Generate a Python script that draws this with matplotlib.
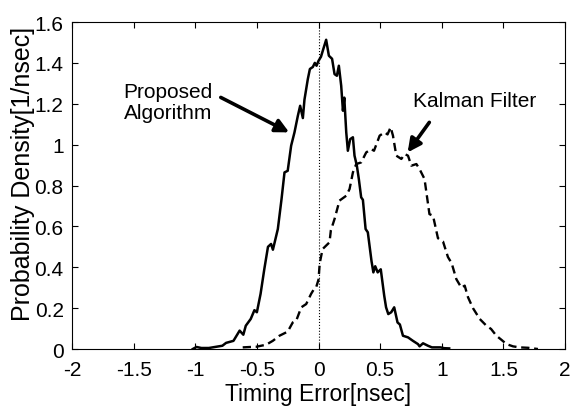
#
#	plot.py
#	Timing error probability densities, proposed algorithm vs Kalman filter
#

import numpy as np
import matplotlib.pyplot as plt

plt.rcParams['font.family'] = ['Liberation Sans', 'DejaVu Sans']
plt.rcParams['axes.unicode_minus'] = False

# Proposed algorithm (solid)
x_prop = [-1.02, -0.99, -0.95, -0.89, -0.81, -0.78, -0.75, -0.72, -0.69, -0.64,
          -0.61, -0.59, -0.55, -0.52, -0.50, -0.47, -0.44, -0.41, -0.385, -0.37,
          -0.33, -0.30, -0.276, -0.25, -0.222, -0.195, -0.168, -0.149, -0.127, -0.114,
          -0.087, -0.07, -0.046, -0.03, -0.016, 0.0, 0.02, 0.04, 0.062, 0.084,
          0.11, 0.13, 0.149, 0.165, 0.184, 0.198, 0.209, 0.225, 0.238, 0.257,
          0.279, 0.292, 0.311, 0.327, 0.346, 0.36, 0.382, 0.40, 0.414, 0.43,
          0.445, 0.46, 0.48, 0.505, 0.533, 0.548, 0.566, 0.59, 0.614, 0.641,
          0.66, 0.685, 0.726, 0.766, 0.807, 0.82, 0.848, 0.888, 0.92, 0.99,
          1.02, 1.06]
y_prop = [0.0, 0.01, 0.005, 0.005, 0.013, 0.016, 0.03, 0.035, 0.04, 0.09,
          0.07, 0.114, 0.147, 0.19, 0.18, 0.27, 0.39, 0.50, 0.514, 0.486,
          0.587, 0.734, 0.864, 0.872, 0.995, 1.06, 1.14, 1.19, 1.13, 1.22,
          1.32, 1.37, 1.38, 1.40, 1.386, 1.41, 1.43, 1.47, 1.513, 1.435,
          1.42, 1.345, 1.337, 1.386, 1.288, 1.166, 1.23, 1.06, 0.97, 1.027,
          1.036, 0.946, 0.897, 0.832, 0.742, 0.73, 0.587, 0.571, 0.505, 0.43,
          0.375, 0.405, 0.375, 0.39, 0.261, 0.204, 0.171, 0.18, 0.204, 0.13,
          0.12, 0.065, 0.057, 0.04, 0.024, 0.013, 0.028, 0.016, 0.008, 0.008,
          0.004, 0.003]

# Kalman filter (dashed)
x_kal = [-0.615, -0.55, -0.506, -0.425, -0.371, -0.317, -0.25, -0.209, -0.18, -0.14,
         -0.10, -0.06, -0.04, -0.02, 0.0, 0.01, 0.033, 0.06, 0.089, 0.10,
         0.13, 0.17, 0.225, 0.252, 0.279, 0.306, 0.346, 0.387, 0.428, 0.45,
         0.496, 0.536, 0.56, 0.585, 0.604, 0.631, 0.672, 0.699, 0.726, 0.753,
         0.794, 0.82, 0.86, 0.875, 0.90, 0.929, 0.969, 1.01, 1.05, 1.08,
         1.118, 1.159, 1.186, 1.213, 1.253, 1.308, 1.362, 1.40, 1.443, 1.484,
         1.525, 1.578, 1.632, 1.70, 1.78]
y_kal = [0.008, 0.01, 0.011, 0.021, 0.04, 0.065, 0.085, 0.13, 0.14, 0.204,
         0.22, 0.27, 0.29, 0.30, 0.34, 0.42, 0.489, 0.505, 0.522, 0.58,
         0.636, 0.726, 0.75, 0.783, 0.864, 0.905, 0.913, 0.962, 0.978, 0.97,
         1.044, 1.06, 1.05, 1.085, 1.044, 0.946, 0.93, 0.954, 0.946, 0.897,
         0.905, 0.88, 0.832, 0.767, 0.66, 0.652, 0.542, 0.526, 0.45, 0.42,
         0.342, 0.30, 0.31, 0.253, 0.20, 0.147, 0.114, 0.098, 0.065, 0.045,
         0.024, 0.013, 0.008, 0.006, 0.0]

xticks = np.arange(-2, 2.01, 0.5)
yticks = np.arange(0, 1.61, 0.2)
xtick_labels = ['-2', '-1.5', '-1', '-0.5', '0', '0.5', '1', '1.5', '2']
ytick_labels = ['0', '0.2', '0.4', '0.6', '0.8', '1', '1.2', '1.4', '1.6']

fig = plt.figure(figsize=[5.7, 4.1], dpi=100)
ax = fig.add_axes([0.1263, 0.1463, 0.865, 0.7976])

ax.plot(x_prop, y_prop, 'k-', lw=1.8)
ax.plot(x_kal, y_kal, 'k--', lw=1.7, dashes=(3.5, 2))
ax.plot([0, 0], [0, 1.6], 'k:', lw=0.8)

ax.set_xlim(-2, 2)
ax.set_ylim(0, 1.6)
ax.set_xticks(xticks)
ax.set_xticklabels(xtick_labels)
ax.set_yticks(yticks)
ax.set_yticklabels(ytick_labels)
ax.tick_params(direction='in', top=True, right=True, length=4, labelsize=15)
ax.tick_params(axis='x', pad=8)
ax.tick_params(axis='y', pad=6)
for s in ax.spines.values():
    s.set_linewidth(0.8)

ax.set_xlabel('Timing Error[nsec]', fontsize=16.5, labelpad=2)
ax.set_ylabel('Probability Density[1/nsec]', fontsize=18)
ax.yaxis.set_label_coords(-0.075, 0.538)
ax.yaxis.label.set_zorder(0)

arrow = dict(arrowstyle='-|>', lw=2.6, color='k', mutation_scale=20, shrinkA=0, shrinkB=0)
ax.annotate('', xy=(-0.238, 1.06), xytext=(-0.793, 1.231), arrowprops=arrow)
ax.text(-1.22, 1.21, 'Proposed\nAlgorithm', fontsize=15, ha='center', va='center',
        linespacing=1.15)
ax.annotate('', xy=(0.723, 0.962), xytext=(0.899, 1.109), arrowprops=arrow)
ax.text(1.265, 1.215, 'Kalman Filter', fontsize=15, ha='center', va='center')

plt.savefig('out.png')
